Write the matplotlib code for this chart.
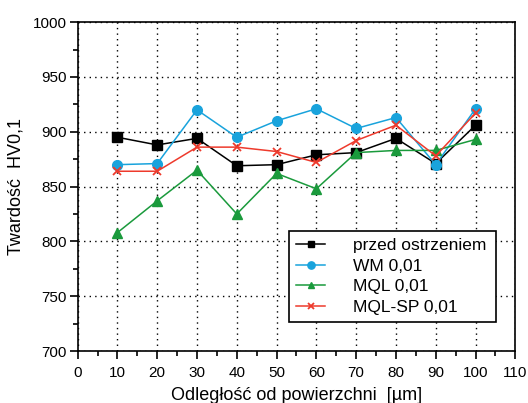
import matplotlib
matplotlib.use("Agg")
import matplotlib.pyplot as plt
from matplotlib.ticker import MultipleLocator

plt.rcParams["font.family"] = ["Liberation Sans", "DejaVu Sans"]

# ====== Data ======
distance = [10, 20, 30, 40, 50, 60, 70, 80, 90, 100]
przed = [895, 888, 894, 869, 870, 879, 881, 894, 871, 906]
wm = [870, 871, 920, 895, 910, 921, 903, 913, 870, 921]
mql = [808, 837, 865, 825, 862, 848, 881, 883, 883, 893]
mql_sp = [864, 864, 886, 886, 882, 872, 892, 906, 878, 917]

series_labels = ["przed ostrzeniem", "WM 0,01", "MQL 0,01", "MQL-SP 0,01"]

fig = plt.figure(figsize=(5.28, 4.03), dpi=100)
ax = fig.add_axes([0.147, 0.129, 0.829, 0.816])

ax.plot(distance, przed, color="black", marker="s", markersize=6.5, lw=1.1,
        label=series_labels[0])
ax.plot(distance, wm, color="#19a3dc", marker="o", markersize=7, lw=1.1,
        label=series_labels[1])
ax.plot(distance, mql, color="#1a9a3c", marker="^", markersize=6.5, lw=1.1,
        label=series_labels[2])
ax.plot(distance, mql_sp, color="#ee3a2c", marker="x", markersize=5.5, mew=1.3,
        lw=1.1, label=series_labels[3])

ax.set_xlim(0, 110)
ax.set_ylim(700, 1000)
ax.xaxis.set_major_locator(MultipleLocator(10))
ax.xaxis.set_minor_locator(MultipleLocator(5))
ax.yaxis.set_major_locator(MultipleLocator(50))
ax.yaxis.set_minor_locator(MultipleLocator(25))
ax.tick_params(which="major", direction="out", length=6, width=1.2,
               labelsize=11)
ax.tick_params(axis="x", which="major", pad=5)
ax.tick_params(axis="y", which="major", pad=2)
ax.tick_params(which="minor", direction="out", length=3.5, width=1.2)
ax.grid(True, which="major", color="black", linestyle=(0, (1, 3)), lw=1.0)
for s in ax.spines.values():
    s.set_linewidth(1.2)

ax.set_xlabel("Odległość od powierzchni  [µm]", fontsize=13, labelpad=5)
ax.set_ylabel("Twardość  HV0,1", fontsize=13, labelpad=6)

leg = ax.legend(loc="lower left", bbox_to_anchor=(0.483, 0.088, 0.473, 0.277),
                mode="expand", fontsize=12.5, frameon=True, fancybox=False,
                handlelength=1.7, borderpad=0.4, labelspacing=0.32,
                handletextpad=1.6, markerscale=0.75, borderaxespad=0)
leg.get_frame().set_edgecolor("black")
leg.get_frame().set_linewidth(1.2)
leg.get_frame().set_alpha(1)

fig.savefig("out.png", dpi=100)
